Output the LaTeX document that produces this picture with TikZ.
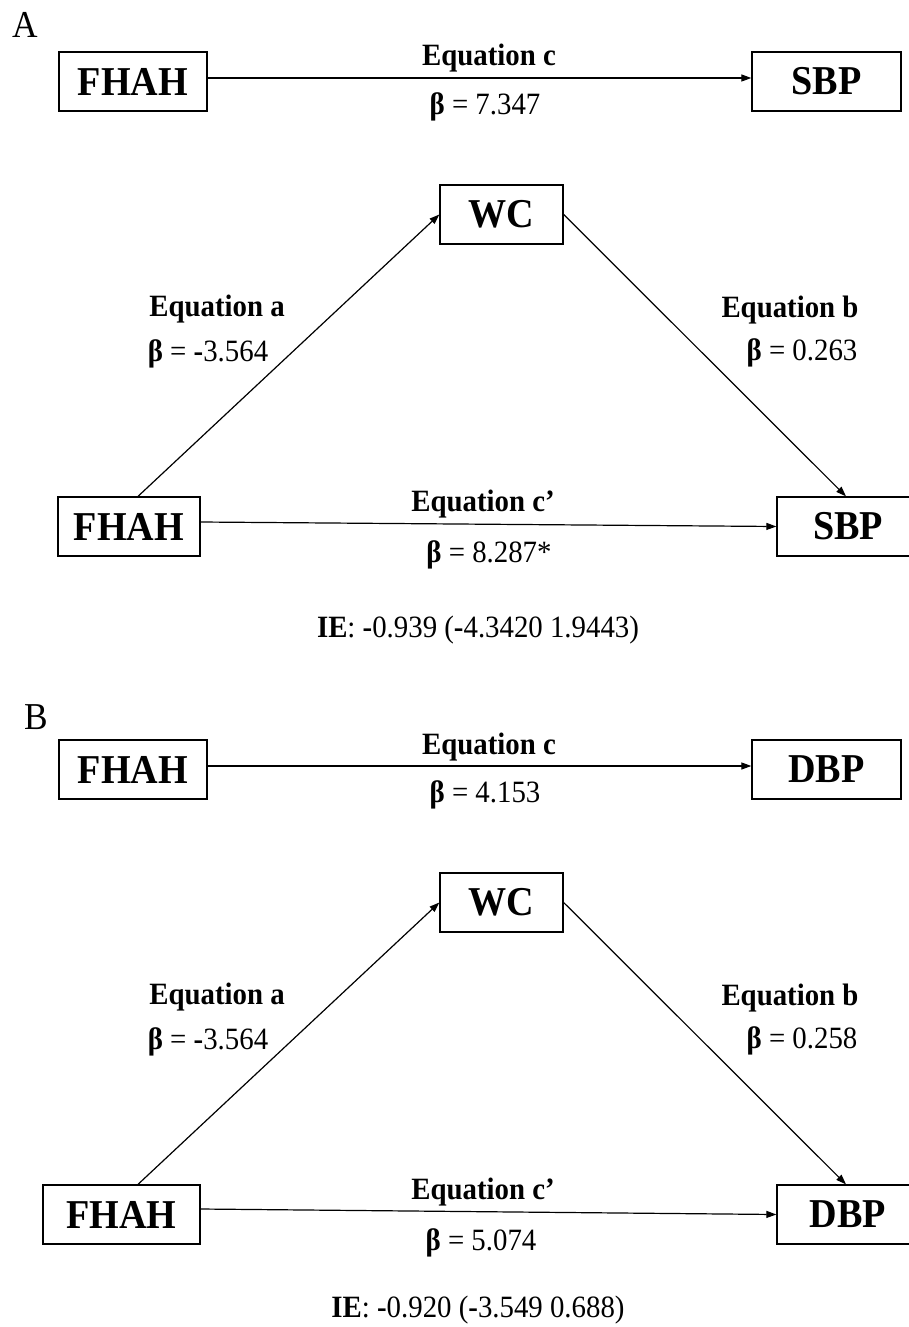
\documentclass[tikz,border=0pt]{standalone}
\usepackage{fontspec}
\setmainfont{Liberation Serif}[FakeStretch=0.93]
\usetikzlibrary{arrows.meta}
\tikzset{
  varbox/.style={draw=black, line width=1.3pt, inner sep=0pt, minimum height=59pt,
    font=\fontsize{41}{44}\selectfont\bfseries},
  lbl/.style={inner sep=0pt, anchor=base, font=\fontsize{31}{34}\selectfont},
  panel/.style={inner sep=0pt, anchor=base west, font=\fontsize{38}{40}\selectfont},
  conn/.style={line width=1.2pt, -{Triangle[length=10pt,width=7pt]}}
}
\begin{document}
\begin{tikzpicture}[x=1pt,y=-1pt]
\useasboundingbox[fill=white] (0,0) rectangle (909,1327);

% ---------- Panel A ----------
\node[panel] (pa) at (12,38) {A};
\node[varbox, minimum width=148pt] (fa1) at (133,81.5) {FHAH};
\node[varbox, minimum width=149pt] (sa1) at (826.5,81.5) {SBP};
\draw[conn] ([yshift=3.5pt]fa1.east) -- ([yshift=3.5pt]sa1.west);
\node[lbl] (ea1) at (489,66) {\textbf{Equation c}};
\node[lbl] (ba1) at (485,114) {\textbf{β} = 7.347};

\node[varbox, minimum width=123pt] (wa) at (501.5,214.5) {WC};
\node[varbox, minimum width=142pt] (fa2) at (129,526.5) {FHAH};
\node[varbox, minimum width=142pt] (sa2) at (848,526.5) {SBP};
\draw[conn] ([xshift=9pt]fa2.north) -- (wa.west);
\draw[conn] (wa.east) -- ([xshift=-2pt]sa2.north);
\draw[conn] ([yshift=4.5pt]fa2.east) -- (sa2.west);

\node[lbl] (eaa) at (217,316) {\textbf{Equation a}};
\node[lbl] (baa) at (208,361) {\textbf{β} = \textbf{-}3.564};
\node[lbl] (eab) at (790,317) {\textbf{Equation b}};
\node[lbl] (bab) at (802,360) {\textbf{β} = 0.263};
\node[lbl] (eac) at (483,511) {\textbf{Equation c’}};
\node[lbl] (bac) at (489,562) {\textbf{β} = 8.287*};
\node[lbl] (iea) at (478,637) {\textbf{IE}: \textbf{-}0.939 (\textbf{-}4.3420 1.9443)};

% ---------- Panel B ----------
\node[panel] (pb) at (24,729) {B};
\node[varbox, minimum width=148pt] (fb1) at (133,769.5) {FHAH};
\node[varbox, minimum width=149pt] (db1) at (826.5,769.5) {DBP};
\draw[conn] ([yshift=3.5pt]fb1.east) -- ([yshift=3.5pt]db1.west);
\node[lbl] (eb1) at (489,754) {\textbf{Equation c}};
\node[lbl] (bb1) at (485,802) {\textbf{β} = 4.153};

\node[varbox, minimum width=123pt] (wb) at (501.5,902.5) {WC};
\node[varbox, minimum width=157pt] (fb2) at (121.5,1214.5) {FHAH};
\node[varbox, minimum width=142pt] (db2) at (848,1214.5) {DBP};
\draw[conn] ([xshift=16.5pt]fb2.north) -- (wb.west);
\draw[conn] (wb.east) -- ([xshift=-2pt]db2.north);
\draw[conn] ([yshift=5.5pt]fb2.east) -- (db2.west);

\node[lbl] (eba) at (217,1004) {\textbf{Equation a}};
\node[lbl] (bba) at (208,1049) {\textbf{β} = \textbf{-}3.564};
\node[lbl] (ebb) at (790,1005) {\textbf{Equation b}};
\node[lbl] (bbb) at (802,1048) {\textbf{β} = 0.258};
\node[lbl] (ebc) at (483,1199) {\textbf{Equation c’}};
\node[lbl] (bbc) at (481,1250) {\textbf{β} = 5.074};
\node[lbl] (ieb) at (478,1317) {\textbf{IE}: \textbf{-}0.920 (\textbf{-}3.549 0.688)};
\end{tikzpicture}
\end{document}
